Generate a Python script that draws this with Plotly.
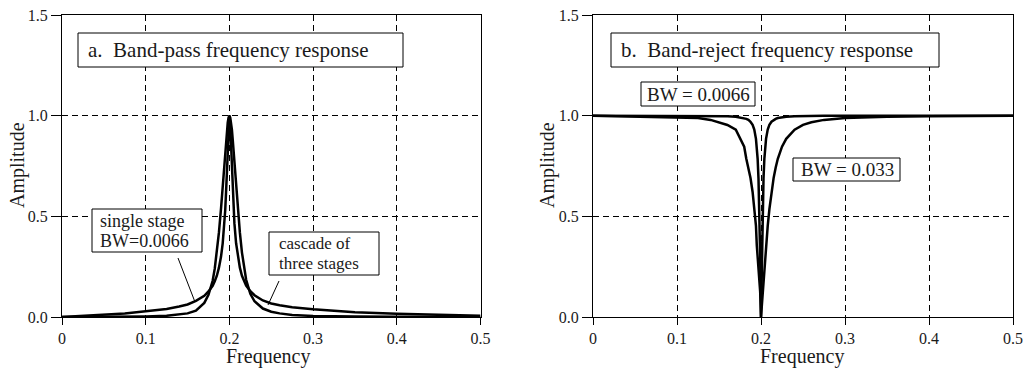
import plotly.graph_objects as go

# ---------------- data ----------------
freq = [0.0, 0.025, 0.05, 0.075, 0.1, 0.125, 0.14, 0.15, 0.16, 0.17, 0.175, 0.18,
        0.1825, 0.185, 0.1875, 0.19, 0.192, 0.194, 0.195, 0.196, 0.197, 0.198, 0.199,
        0.2, 0.201, 0.202, 0.203, 0.204, 0.205, 0.206, 0.208, 0.21, 0.2125, 0.215,
        0.2175, 0.22, 0.225, 0.23, 0.24, 0.25, 0.26, 0.275, 0.3, 0.325, 0.35, 0.4,
        0.45, 0.5]

bp_single = [0.0, 0.006, 0.011, 0.018, 0.028, 0.040, 0.052, 0.062, 0.080, 0.105, 0.127, 0.155,
             0.178, 0.205, 0.245, 0.30, 0.366, 0.465, 0.53, 0.62, 0.72, 0.84, 0.95,
             1.0, 0.95, 0.84, 0.72, 0.62, 0.53, 0.465, 0.366, 0.30, 0.245, 0.205,
             0.178, 0.156, 0.128, 0.108, 0.082, 0.067, 0.058, 0.048, 0.038, 0.030, 0.024, 0.016,
             0.010, 0.006]

bp_cascade = [0.0, 0.0, 0.001, 0.002, 0.003, 0.006, 0.012, 0.018, 0.032, 0.070, 0.110, 0.180,
              0.24, 0.32, 0.42, 0.54, 0.65, 0.77, 0.82, 0.88, 0.93, 0.965, 0.99,
              1.0, 0.99, 0.965, 0.93, 0.88, 0.82, 0.77, 0.65, 0.54, 0.42, 0.32,
              0.24, 0.185, 0.115, 0.078, 0.042, 0.026, 0.018, 0.010, 0.005, 0.003, 0.002, 0.001,
              0.0, 0.0]

br_narrow = [1.0, 1.0, 1.0, 0.999, 0.999, 0.999, 0.998, 0.998, 0.997, 0.995, 0.992, 0.988,
             0.984, 0.979, 0.970, 0.954, 0.931, 0.885, 0.846, 0.785, 0.69, 0.536, 0.303,
             0.0, 0.303, 0.536, 0.69, 0.785, 0.846, 0.885, 0.931, 0.954, 0.970, 0.979,
             0.984, 0.988, 0.992, 0.995, 0.997, 0.998, 0.998, 0.999, 0.999, 0.999, 1.0, 1.0,
             1.0, 1.0]

br_wide = [1.0, 0.998, 0.997, 0.994, 0.992, 0.988, 0.979, 0.967, 0.954, 0.930, 0.885, 0.846,
           0.786, 0.743, 0.690, 0.621, 0.536, 0.453, 0.356, 0.302, 0.246, 0.187, 0.126,
           0.0, 0.063, 0.126, 0.187, 0.246, 0.302, 0.356, 0.453, 0.536, 0.621, 0.690,
           0.743, 0.786, 0.846, 0.885, 0.930, 0.954, 0.967, 0.979, 0.988, 0.992, 0.994, 0.997,
           0.998, 0.999]

x_ticks = [0, 0.1, 0.2, 0.3, 0.4, 0.5]
x_ticktext = ["0", "0.1", "0.2", "0.3", "0.4", "0.5"]
y_ticks = [0, 0.5, 1.0, 1.5]
y_ticktext = ["0.0", "0.5", "1.0", "1.5"]

# ---------------- layout helpers ----------------
W, H = 1027, 372
FONT = "Liberation Serif, Times New Roman, serif"
TXT = "#1a1a1a"


def px(x):
    return x / W


def py(y):
    return 1 - y / H


fig = go.Figure()
line_style = dict(color="black", width=2.5)
fig.add_trace(go.Scatter(x=freq, y=bp_single, mode="lines", line=line_style,
                         xaxis="x", yaxis="y", showlegend=False, hoverinfo="skip"))
fig.add_trace(go.Scatter(x=freq, y=bp_cascade, mode="lines", line=line_style,
                         xaxis="x", yaxis="y", showlegend=False, hoverinfo="skip"))
fig.add_trace(go.Scatter(x=freq, y=br_wide, mode="lines", line=line_style,
                         xaxis="x2", yaxis="y2", showlegend=False, hoverinfo="skip"))
fig.add_trace(go.Scatter(x=freq, y=br_narrow, mode="lines", line=line_style,
                         xaxis="x2", yaxis="y2", showlegend=False, hoverinfo="skip"))

ydom = [py(317), py(15)]
common_x = dict(range=[0, 0.5], tickvals=x_ticks, ticktext=x_ticktext,
                showline=True, mirror=True, linecolor="black", linewidth=1,
                ticks="outside", ticklen=7, tickcolor="black", automargin=False,
                showgrid=True, gridcolor="black", gridwidth=1, griddash="6px,4px",
                zeroline=False, tickfont=dict(family=FONT, size=16, color=TXT),
                fixedrange=True)
common_y = dict(range=[0, 1.5], tickvals=y_ticks, ticktext=y_ticktext,
                showline=True, mirror=True, linecolor="black", linewidth=1,
                ticks="outside", ticklen=10, tickcolor="black", automargin=False,
                showgrid=True, gridcolor="black", gridwidth=1, griddash="6px,4px",
                zeroline=False, tickfont=dict(family=FONT, size=16, color=TXT),
                domain=ydom, fixedrange=True)

fig.update_layout(
    width=W, height=H,
    margin=dict(l=0, r=0, t=0, b=0, autoexpand=False),
    paper_bgcolor="white", plot_bgcolor="white",
    xaxis=dict(common_x, domain=[px(62), px(480.5)], anchor="y"),
    yaxis=dict(common_y, anchor="x"),
    xaxis2=dict(common_x, domain=[px(593), px(1013)], anchor="y2"),
    yaxis2=dict(common_y, anchor="x2"),
    font=dict(family=FONT, color=TXT),
)

shapes = []
annotations = []


def box(x0, y0, x1, y1):
    shapes.append(dict(type="rect", xref="paper", yref="paper",
                       x0=px(x0), x1=px(x1), y0=py(y1), y1=py(y0),
                       line=dict(color="black", width=1), fillcolor="white", layer="above"))


def text(x, y, s, size, xanchor="left"):
    annotations.append(dict(xref="paper", yref="paper", x=px(x), y=py(y), text=s,
                            showarrow=False, xanchor=xanchor, yanchor="middle",
                            font=dict(family=FONT, size=size, color=TXT)))


def seg(x0, y0, x1, y1):
    shapes.append(dict(type="line", xref="paper", yref="paper",
                       x0=px(x0), y0=py(y0), x1=px(x1), y1=py(y1),
                       line=dict(color="black", width=1), layer="above"))


# panel titles
box(78, 33, 403, 67)
text(86, 50, "a.\u00a0\u00a0Band-pass frequency response", 21)
box(611, 33, 939, 67)
text(619, 50, "b.\u00a0\u00a0Band-reject frequency response", 21)

# left labels
box(92, 209, 202, 252)
text(98, 221, "single stage", 18)
text(98, 241, "BW=0.0066", 18)
seg(178, 258, 195, 302)

box(269, 232, 379, 275)
text(277, 243, "cascade of", 17)
text(277, 263, "three stages", 17)
seg(279, 281, 268, 305)

# right labels
box(641, 82, 755, 106)
text(645, 94, "BW = 0.0066", 19)
box(793, 158, 900, 181)
text(799, 169, "BW = 0.033", 19)

# axis titles
text(268, 356, "Frequency", 20, xanchor="center")
text(802, 356, "Frequency", 20, xanchor="center")
annotations.append(dict(xref="paper", yref="paper", x=px(17), y=py(165), text="Amplitude",
                        showarrow=False, textangle=-90, xanchor="center", yanchor="middle",
                        font=dict(family=FONT, size=20, color=TXT)))
annotations.append(dict(xref="paper", yref="paper", x=px(547), y=py(165), text="Amplitude",
                        showarrow=False, textangle=-90, xanchor="center", yanchor="middle",
                        font=dict(family=FONT, size=20, color=TXT)))

fig.update_layout(shapes=shapes, annotations=annotations)
fig.write_html("out.html", config={"displayModeBar": False},
               post_script="document.body.style.margin='0';document.body.style.overflow='hidden';")
